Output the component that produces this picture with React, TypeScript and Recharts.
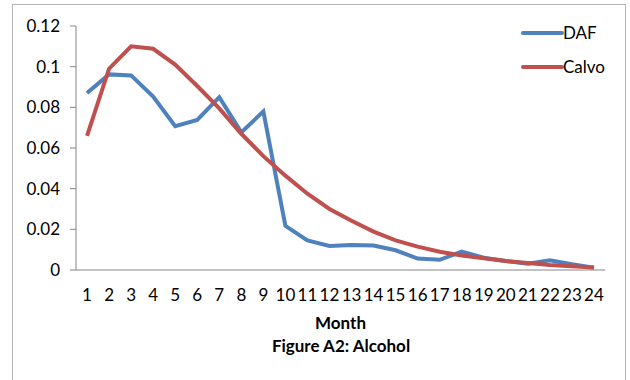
import { LineChart, Line, XAxis, YAxis } from 'recharts';

const months = [1, 2, 3, 4, 5, 6, 7, 8, 9, 10, 11, 12, 13, 14, 15, 16, 17, 18, 19, 20, 21, 22, 23, 24];

const daf = [
    0.087, 0.0962, 0.0957, 0.0853, 0.0707, 0.0738, 0.085, 0.0677, 0.078, 0.0217, 0.0146, 0.0118,
    0.0123, 0.012, 0.0097, 0.0056, 0.005, 0.009, 0.006, 0.0044, 0.0031, 0.0048, 0.0028, 0.0011,
];

const calvo = [
    0.066, 0.099, 0.11, 0.1088, 0.101, 0.0905, 0.0795, 0.067, 0.056, 0.0464, 0.0375, 0.030,
    0.0242, 0.0189, 0.0146, 0.0115, 0.009, 0.0071, 0.0058, 0.0044, 0.0035, 0.0025, 0.0018, 0.0012,
];

const yTicks = [0, 0.02, 0.04, 0.06, 0.08, 0.1, 0.12];

const BLUE = '#4F81BD';
const RED = '#C0504D';
const AXIS = '#868686';
const FONT = 'Lato, "Open Sans", sans-serif';

const data = months.map((m, i) => ({ month: m, DAF: daf[i], Calvo: calvo[i] }));

const legendItems = [
    { name: 'DAF', color: BLUE },
    { name: 'Calvo', color: RED },
];

function ChartLegend() {
    return (
        <svg width={100} height={60} style={{ position: 'absolute', left: 521, top: 25, overflow: 'visible' }}>
            {legendItems.map((it, i) => (
                <g key={it.name}>
                    <line x1={2} x2={41} y1={8 + i * 34} y2={8 + i * 34} stroke={it.color} strokeWidth={4} strokeLinecap="round" />
                    <text x={42} y={14 + i * 34} fontSize={17} fontFamily={FONT} fill="#000">
                        {it.name}
                    </text>
                </g>
            ))}
        </svg>
    );
}

export default function App() {
    return (
        <div style={{ position: 'absolute', left: 0, top: 0, width: 630, height: 380, background: '#fff', overflow: 'hidden' }}>
            {/* chart frame */}
            <div
                style={{
                    position: 'absolute',
                    left: 12,
                    top: 4,
                    width: 612,
                    height: 400,
                    border: '1.5px solid #b4b4b4',
                }}
            />
            <div style={{ position: 'absolute', left: 0, top: 0 }}>
                <LineChart width={630} height={380} data={data} margin={{ top: 26, right: 25, left: 16, bottom: 50 }}>
                    <XAxis
                        dataKey="month"
                        scale="band"
                        height={60}
                        stroke={AXIS}
                        tickLine={false}
                        tickSize={6}
                        tickMargin={13}
                        interval={0}
                        tick={{ fill: '#000', fontSize: 17, fontFamily: FONT }}
                        label={{
                            value: 'Month',
                            position: 'insideBottom',
                            offset: 1,
                            style: { fill: '#000', fontSize: 17, fontWeight: 'bold', fontFamily: FONT },
                        }}
                    />
                    <YAxis
                        width={60}
                        domain={[0, 0.12]}
                        ticks={yTicks}
                        stroke={AXIS}
                        tickSize={6}
                        tickMargin={10}
                        tick={{ fill: '#000', fontSize: 17, fontFamily: FONT }}
                    />
                    <Line dataKey="DAF" stroke={BLUE} strokeWidth={4} dot={false} isAnimationActive={false} />
                    <Line dataKey="Calvo" stroke={RED} strokeWidth={4} dot={false} isAnimationActive={false} />
                </LineChart>
            </div>
            <ChartLegend />
            <div
                style={{
                    position: 'absolute',
                    left: 0,
                    width: 682,
                    top: 336,
                    textAlign: 'center',
                    fontFamily: FONT,
                    fontWeight: 'bold',
                    fontSize: 17,
                    lineHeight: '20px',
                }}
            >
                Figure A2: Alcohol
            </div>
        </div>
    );
}
